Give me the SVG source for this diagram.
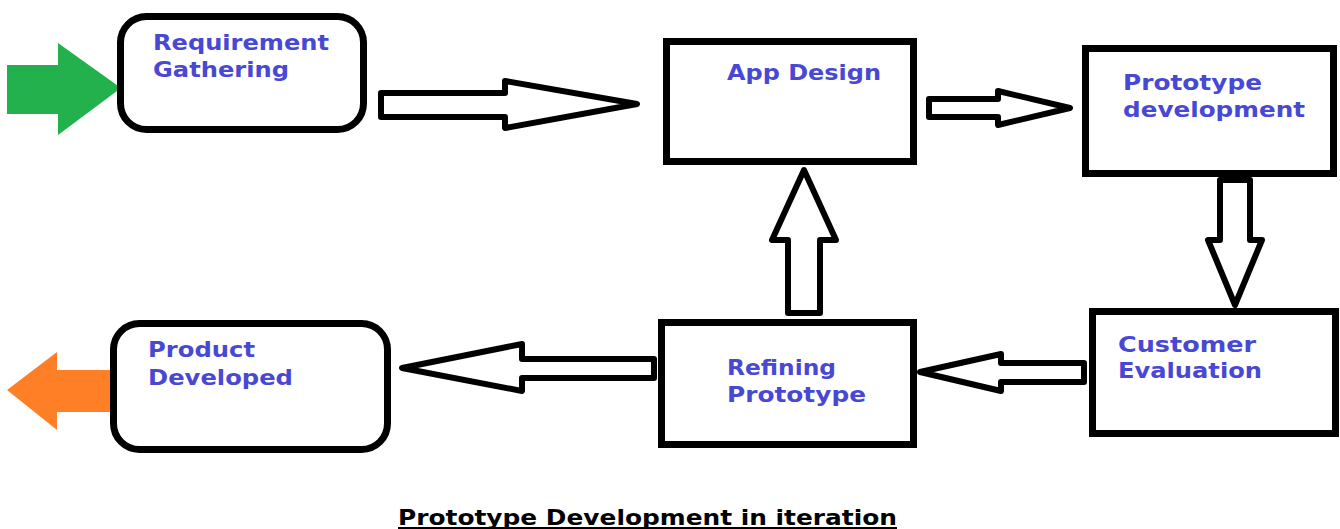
<svg xmlns="http://www.w3.org/2000/svg" width="1340" height="529" viewBox="0 0 1340 529">
<style>
.box{fill:#fff;stroke:#000;stroke-width:7}
.arr{fill:#fff;stroke:#000;stroke-width:6;stroke-linejoin:round}
.lbl{font-family:"DejaVu Sans",Verdana,sans-serif;font-weight:bold;font-size:20.5px;fill:#4848d4}
.cap{font-family:"DejaVu Sans",Verdana,sans-serif;font-weight:bold;font-size:22px;fill:#000}
</style>
<rect width="1340" height="529" fill="#fff"/>
<g id="connectors">
<polygon fill="#22b14c" points="7,65 58,65 58,43 121,88 58,135 58,114 7,114"/>
<polygon fill="#ff7f27" points="110,370 57,370 57,352 7,390 57,430 57,412 110,412"/>
<polygon class="arr" points="381,93 505,93 505,81 637,104 505,128 505,117 381,117"/>
<polygon class="arr" points="929,99 998,99 998,91 1070,108 998,125 998,117 929,117"/>
<polygon class="arr" points="1220,180 1250,180 1250,240 1262,240 1235,305 1208,240 1220,240"/>
<polygon class="arr" points="1084,363 1001,363 1001,354 920,372 1001,391 1001,382 1084,382"/>
<polygon class="arr" points="788,313 820,313 820,240 836,240 804,170 772,240 788,240"/>
<polygon class="arr" points="654,359 522,359 522,344 402,368 522,391 522,378 654,378"/>
</g>
<g id="req">
<rect class="box" x="120.5" y="16.5" width="243" height="113" rx="26"/>
<text class="lbl" x="153" y="50" textLength="176" lengthAdjust="spacingAndGlyphs">Requirement</text>
<text class="lbl" x="153" y="77" textLength="136" lengthAdjust="spacingAndGlyphs">Gathering</text>
</g>
<g id="appdesign">
<rect class="box" x="666.5" y="41.5" width="247" height="120"/>
<text class="lbl" x="727" y="80" textLength="154" lengthAdjust="spacingAndGlyphs">App Design</text>
</g>
<g id="protodev">
<rect class="box" x="1085.5" y="48.5" width="248" height="125"/>
<text class="lbl" x="1123" y="90" textLength="139" lengthAdjust="spacingAndGlyphs">Prototype</text>
<text class="lbl" x="1123" y="117" textLength="182" lengthAdjust="spacingAndGlyphs">development</text>
</g>
<g id="custeval">
<rect class="box" x="1092.5" y="311.5" width="243" height="122"/>
<text class="lbl" x="1118" y="352" textLength="138" lengthAdjust="spacingAndGlyphs">Customer</text>
<text class="lbl" x="1118" y="378" textLength="144" lengthAdjust="spacingAndGlyphs">Evaluation</text>
</g>
<g id="refining">
<rect class="box" x="661.5" y="322.5" width="252" height="122"/>
<text class="lbl" x="727" y="375" textLength="109" lengthAdjust="spacingAndGlyphs">Refining</text>
<text class="lbl" x="727" y="402" textLength="139" lengthAdjust="spacingAndGlyphs">Prototype</text>
</g>
<g id="product">
<rect class="box" x="113.5" y="323.5" width="274" height="126" rx="26"/>
<text class="lbl" x="148" y="357" textLength="107" lengthAdjust="spacingAndGlyphs">Product</text>
<text class="lbl" x="148" y="385" textLength="145" lengthAdjust="spacingAndGlyphs">Developed</text>
</g>
<g id="caption">
<text class="cap" x="398" y="525" textLength="499" lengthAdjust="spacingAndGlyphs">Prototype Development in iteration</text>
<rect x="398" y="527" width="499" height="2" fill="#000"/>
</g>
</svg>
